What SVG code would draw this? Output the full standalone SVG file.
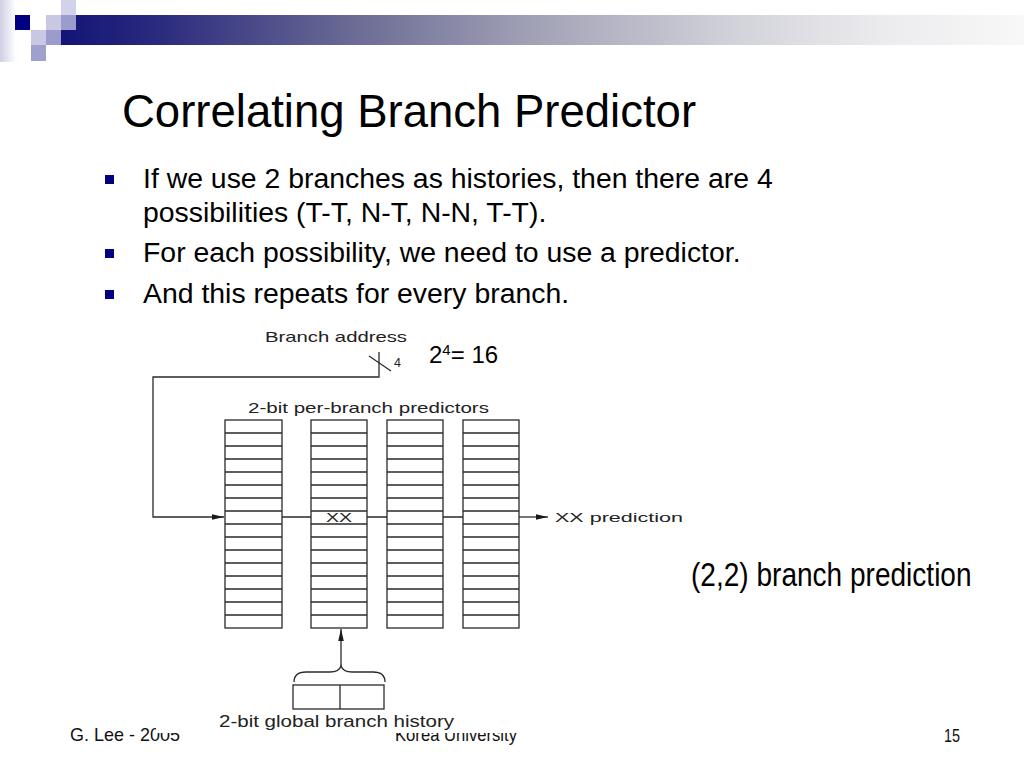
<svg xmlns="http://www.w3.org/2000/svg" width="1024" height="768" viewBox="0 0 1024 768">
<style>
text{font-family:"Liberation Sans",Arial,sans-serif;fill:#000}
.title{font-size:45.5px}
.body{font-size:28.4px}
.narrow{font-size:34px}
.foot{font-size:19px;fill:#111}
.fig{font-size:14.5px;fill:#222}
.ln{fill:none;stroke:#2a2a2a;stroke-width:1.3}
.box{fill:#fff;stroke:#2a2a2a;stroke-width:1.3}
.bul{fill:#000080}
</style>
<defs>
<linearGradient id="band" x1="0" y1="0" x2="1" y2="0">
<stop offset="0" stop-color="#141478"/>
<stop offset="0.1" stop-color="#2a2a7e"/>
<stop offset="0.3" stop-color="#6a6a94"/>
<stop offset="0.5" stop-color="#a4a4b8"/>
<stop offset="0.7" stop-color="#d2d2da"/>
<stop offset="0.85" stop-color="#ebebee"/>
<stop offset="1" stop-color="#f8f8f8"/>
</linearGradient>
<linearGradient id="edge" x1="0" y1="0" x2="1" y2="0">
<stop offset="0" stop-color="#cfcfe6"/>
<stop offset="1" stop-color="#ffffff"/>
</linearGradient>
<marker id="ah" markerWidth="12" markerHeight="8" refX="12" refY="4" orient="auto" markerUnits="userSpaceOnUse">
<path d="M0,1.2 L12,4 L0,6.8 Z" fill="#1a1a1a"/>
</marker>
</defs>
<rect width="1024" height="768" fill="#fff"/>

<g id="decoration">
<rect x="0" y="0" width="16" height="62" fill="url(#edge)"/>
<rect x="61" y="15" width="963" height="30" fill="url(#band)"/>
<rect x="15" y="15" width="15" height="15" fill="#000080"/>
<rect x="46" y="15" width="15" height="15" fill="#c8c8e2"/>
<rect x="61" y="15" width="15" height="15" fill="#9c9ccc"/>
<rect x="61" y="0" width="15" height="15" fill="#d2d2ea"/>
<rect x="31" y="30" width="15" height="15" fill="#c8c8e2"/>
<rect x="46" y="30" width="15" height="15" fill="#9c9ccc"/>
<rect x="31" y="45" width="15" height="16" fill="#a0a0cc"/>
</g>

<g id="title"><text class="title" x="122" y="127">Correlating Branch Predictor</text></g>

<g id="bullets">
<rect class="bul" x="105" y="175" width="9" height="9"/>
<text class="body" x="143" y="188">If we use 2 branches as histories, then there are 4</text>
<text class="body" x="143" y="222">possibilities (T-T, N-T, N-N, T-T).</text>
<rect class="bul" x="105" y="249" width="9" height="9"/>
<text class="body" x="143" y="262">For each possibility, we need to use a predictor.</text>
<rect class="bul" x="105" y="290" width="9" height="9"/>
<text class="body" x="143" y="303">And this repeats for every branch.</text>
</g>

<g id="footer">
<text class="foot" x="70" y="741" textLength="110" lengthAdjust="spacingAndGlyphs">G. Lee - 2005</text>
<text class="foot" x="395" y="741" textLength="122" lengthAdjust="spacingAndGlyphs">Korea University</text>
<text class="foot" x="944" y="742" textLength="16" lengthAdjust="spacingAndGlyphs">15</text>
</g>

<rect id="figure-bg" x="156" y="318" width="532" height="415" fill="#fff"/>

<g id="labels">
<text class="fig" x="265" y="342" textLength="142" lengthAdjust="spacingAndGlyphs">Branch address</text>
<text class="fig" x="394" y="367" style="font-size:12.5px">4</text>
<text class="fig" x="248" y="413" textLength="241" lengthAdjust="spacingAndGlyphs">2-bit per-branch predictors</text>
<text class="fig" x="555" y="522" textLength="128" lengthAdjust="spacingAndGlyphs" style="font-size:13.5px">XX prediction</text>
<text class="fig" x="219" y="727" textLength="235" lengthAdjust="spacingAndGlyphs" style="font-size:16px">2-bit global branch history</text>
<text x="429" y="363" style="font-size:24px">2<tspan dy="-8" style="font-size:15px">4</tspan><tspan dy="8">= 16</tspan></text>
<text class="narrow" transform="translate(691,586) scale(0.825,1)">(2,2) branch prediction</text>
</g>

<g id="col1">
<rect class="box" x="225" y="420" width="57" height="208"/>
<path class="ln" d="M225,433h57M225,446h57M225,459h57M225,472h57M225,485h57M225,498h57M225,511h57M225,524h57M225,537h57M225,550h57M225,563h57M225,576h57M225,589h57M225,602h57M225,615h57"/>
</g>
<g id="col2">
<rect class="box" x="311" y="420" width="56" height="208"/>
<path class="ln" d="M311,433h56M311,446h56M311,459h56M311,472h56M311,485h56M311,498h56M311,511h56M311,524h56M311,537h56M311,550h56M311,563h56M311,576h56M311,589h56M311,602h56M311,615h56"/>
<text class="fig" x="339" y="522" text-anchor="middle" style="font-size:13.5px" textLength="26" lengthAdjust="spacingAndGlyphs">XX</text>
</g>
<g id="col3">
<rect class="box" x="387" y="420" width="56" height="208"/>
<path class="ln" d="M387,433h56M387,446h56M387,459h56M387,472h56M387,485h56M387,498h56M387,511h56M387,524h56M387,537h56M387,550h56M387,563h56M387,576h56M387,589h56M387,602h56M387,615h56"/>
</g>
<g id="col4">
<rect class="box" x="463" y="420" width="56" height="208"/>
<path class="ln" d="M463,433h56M463,446h56M463,459h56M463,472h56M463,485h56M463,498h56M463,511h56M463,524h56M463,537h56M463,550h56M463,563h56M463,576h56M463,589h56M463,602h56M463,615h56"/>
</g>
<g id="history">
<rect class="box" x="293" y="685" width="91" height="24"/>
<path class="ln" d="M340,685V709"/>
</g>

<g id="connectors">
<path class="ln" d="M379,352V377H153V517H224" marker-end="url(#ah)"/>
<path class="ln" d="M369,356L391,371"/>
<path class="ln" d="M282,517H311M367,517H387M443,517H463"/>
<path class="ln" d="M519,517H548" marker-end="url(#ah)"/>
<path class="ln" d="M341,667V629" marker-end="url(#ah)"/>
<path class="ln" d="M294,682Q294,672 306,672H330Q339,672 341,666Q343,672 352,672H373Q385,672 385,682"/>
</g>
</svg>
